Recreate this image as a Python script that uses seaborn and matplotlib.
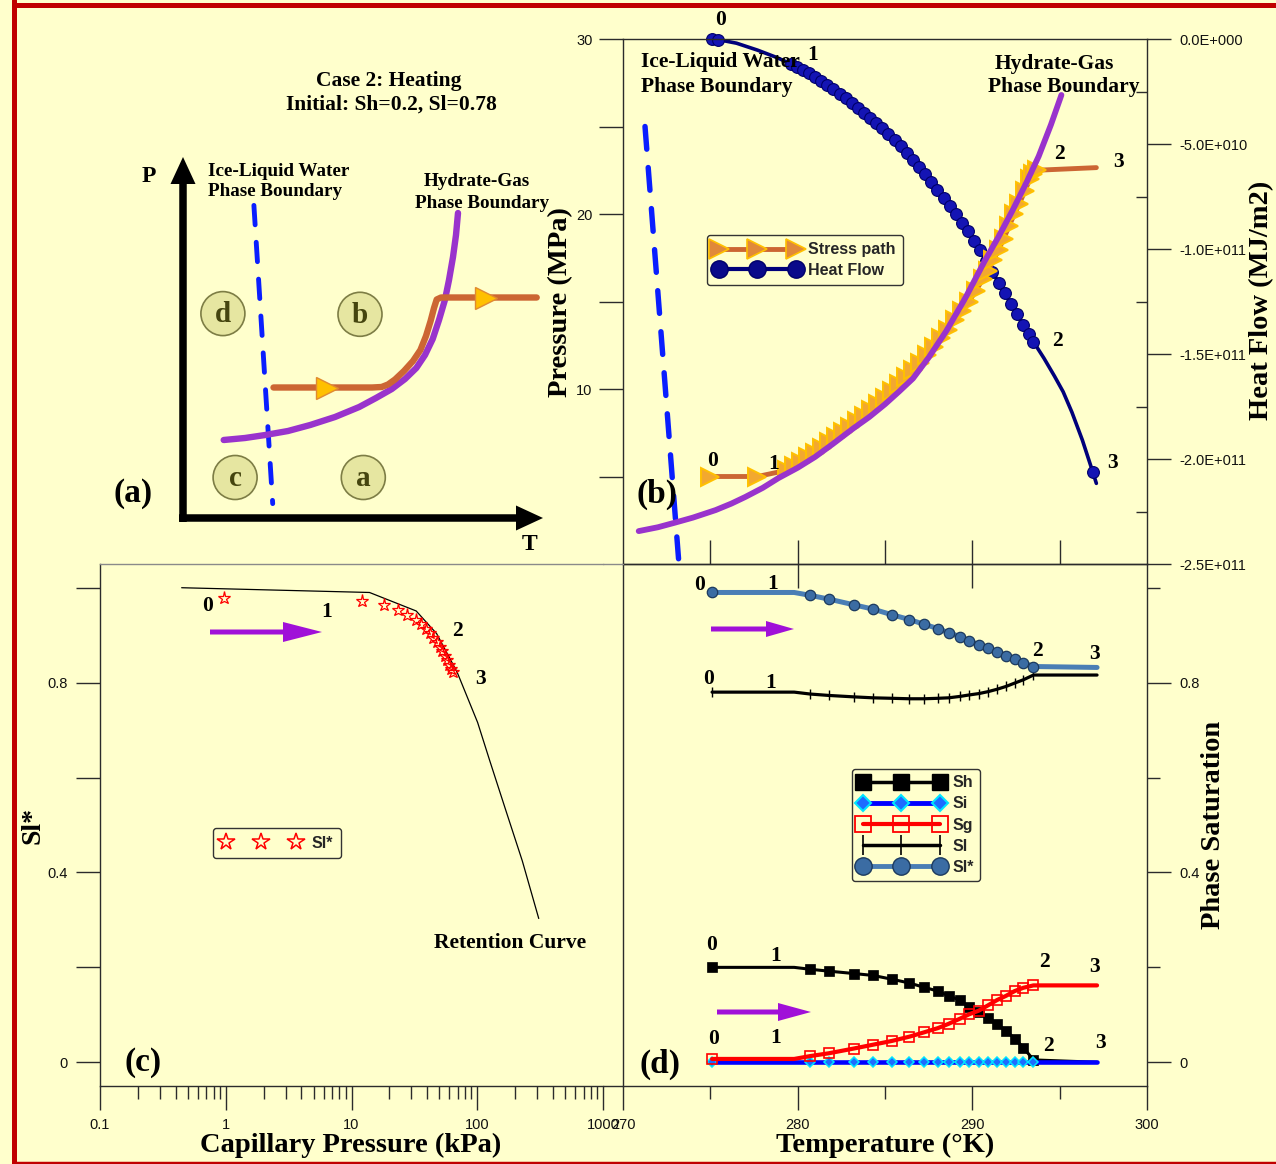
import matplotlib
matplotlib.use("Agg")
import numpy as np
import matplotlib.pyplot as plt
import seaborn as sns
from matplotlib.lines import Line2D
from matplotlib.patches import Circle, FancyArrowPatch, ArrowStyle
from matplotlib.ticker import FixedLocator, FixedFormatter, NullFormatter, LogLocator

# ======================= DATA =======================
# ---- panel (b): pressure / heat flow vs temperature ----
ice_T = [271.26, 273.18]
ice_P = [25.0, 0.3]
hyd_T = [270.9, 272.0, 273.0, 274.0, 275.3, 276.2, 277.0, 278.0, 278.9, 280.0, 281.0, 282.0, 283.2,
         284.1, 285.0, 285.8, 286.6, 287.5, 288.5, 289.6, 290.7, 291.5, 292.3, 293.1, 293.8, 294.5, 295.1]
hyd_P = [1.88, 2.10, 2.37, 2.65, 3.08, 3.45, 3.83, 4.35, 4.91, 5.50, 6.12, 6.85, 7.76,
         8.40, 9.13, 9.85, 10.6, 11.8, 13.3, 15.2, 17.3, 18.7, 20.2, 21.8, 23.3, 25.1, 26.8]
stress_T = [275.0, 277.7, 279.4, 279.8, 280.2, 280.6, 281.0, 281.4, 281.8, 282.2, 282.6, 283.0,
            283.4, 283.8, 284.2, 284.6, 285.0, 285.4, 285.8, 286.2, 286.6, 287.0, 287.4, 287.8,
            288.2, 288.6, 289.0, 289.4, 289.8, 290.2, 290.6, 290.9, 291.2, 291.5, 291.8, 292.1,
            292.4, 292.7, 293.0, 293.3, 293.5, 293.7, 297.1]
stress_P = [5.0, 5.0, 5.36, 5.6, 5.85, 6.1, 6.37, 6.65, 6.96, 7.25, 7.55, 7.85,
            8.15, 8.46, 8.78, 9.13, 9.5, 9.88, 10.27, 10.67, 11.07, 11.5, 11.95, 12.42,
            12.9, 13.4, 13.92, 14.45, 15.0, 15.6, 16.3, 16.77, 17.35, 17.95, 18.6, 19.3,
            19.98, 20.6, 21.3, 22.0, 22.3, 22.5, 22.65]
stress_mark_idx = list(range(42))
hf_T = [275.1, 275.45, 276.5, 277.7, 278.8, 279.6, 279.95, 280.3, 280.65, 281.0, 281.35, 281.7,
        282.05, 282.4, 282.75, 283.1, 283.45, 283.8, 284.15, 284.5, 284.85, 285.2, 285.55, 285.9,
        286.25, 286.6, 286.95, 287.3, 287.65, 288.0, 288.35, 288.7, 289.05, 289.4, 289.75, 290.1,
        290.45, 290.8, 291.15, 291.5, 291.85, 292.2, 292.55, 292.9, 293.25, 293.5, 294.1, 294.7,
        295.2, 295.7, 296.3, 296.9, 297.1]
# heat flow in units of 1e10 MJ/m2
hf_Q = [0.0, -0.03, -0.2, -0.53, -0.88, -1.18, -1.31, -1.47, -1.64, -1.82, -2.0, -2.19,
        -2.39, -2.6, -2.82, -3.04, -3.27, -3.5, -3.74, -3.99, -4.25, -4.52, -4.8, -5.1,
        -5.42, -5.75, -6.1, -6.45, -6.82, -7.2, -7.56, -7.93, -8.33, -8.74, -9.16, -9.6,
        -10.06, -10.55, -11.08, -11.6, -12.1, -12.6, -13.1, -13.6, -14.05, -14.42, -15.2, -16.05,
        -16.8, -17.77, -19.1, -20.63, -21.16]
hf_mark_idx = [0, 1] + list(range(5, 46)) + [51]
p_ticks = [10, 20, 30]
p_minor = [5, 15, 25]
hf_ticks = [0, -5, -10, -15, -20, -25]
hf_minor = [-2.5, -7.5, -12.5, -17.5, -22.5]
hf_tick_labels = ["0.0E+000", "-5.0E+010", "-1.0E+011", "-1.5E+011", "-2.0E+011", "-2.5E+011"]

# ---- panel (d): phase saturations vs temperature ----
sat_T = [275.1, 279.8, 280.71, 281.79, 283.22, 284.31, 285.40, 286.40, 287.23, 288.03, 288.64,
         289.30, 289.81, 290.38, 290.90, 291.41, 291.93, 292.42, 292.92, 293.50, 297.14]
Sh = [0.200, 0.200, 0.196, 0.192, 0.187, 0.183, 0.175, 0.167, 0.158, 0.150, 0.140,
      0.131, 0.116, 0.106, 0.093, 0.081, 0.066, 0.050, 0.031, 0.005, 0.0]
Si = [0.0, 0.0, 0.0, 0.0, 0.0, 0.0, 0.0, 0.0, 0.0, 0.0, 0.0,
      0.0, 0.0, 0.0, 0.0, 0.0, 0.0, 0.0, 0.0, 0.0, 0.0]
Sg = [0.007, 0.007, 0.013, 0.019, 0.029, 0.037, 0.045, 0.054, 0.063, 0.072, 0.081,
      0.092, 0.101, 0.109, 0.120, 0.131, 0.140, 0.150, 0.157, 0.162, 0.162]
Sl = [0.780, 0.780, 0.776, 0.773, 0.770, 0.768, 0.767, 0.766, 0.766, 0.767, 0.768,
      0.771, 0.774, 0.777, 0.781, 0.786, 0.792, 0.799, 0.806, 0.816, 0.816]
Slstar = [0.990, 0.990, 0.984, 0.976, 0.964, 0.955, 0.943, 0.933, 0.923, 0.914, 0.905,
          0.897, 0.888, 0.880, 0.873, 0.865, 0.857, 0.849, 0.842, 0.834, 0.832]
sat_mark_idx = [0] + list(range(2, 20))
T_ticks = [270, 280, 290, 300]
T_minor = [275, 285, 295]
s_ticks = [0, 0.4, 0.8]
s_minor = [0.2, 0.6, 1.0]

# ---- panel (c): retention curve ----
ret_Pc = [0.446, 13.9, 32.7, 47.6, 69.2, 100.7, 125.9, 169.6, 228.4, 308.3]
ret_Sl = [1.0, 0.990, 0.951, 0.903, 0.822, 0.716, 0.635, 0.529, 0.424, 0.303]
star_Pc = [0.977, 12.2, 18.0, 23.4, 27.8, 32.3, 35.8, 38.9, 41.9, 44.8, 47.6, 50.2, 52.8,
           55.2, 57.8, 60.0, 62.3, 64.2]
star_Sl = [0.978, 0.972, 0.963, 0.953, 0.943, 0.933, 0.923, 0.913, 0.904, 0.895, 0.885,
           0.876, 0.866, 0.857, 0.848, 0.838, 0.828, 0.822]
pc_ticks = [0.1, 1, 10, 100, 1000]
pc_tick_labels = ["0.1", "1", "10", "100", "1000"]

# ---- panel (a): schematic (in schematic frame units) ----
sch_ice_x = [253.9, 272.7]
sch_ice_y = [205.4, 503.6]
sch_hyd_x = [223.7, 245, 265.3, 288, 310.2, 335, 359.2, 376, 391.8, 405, 416.3, 425, 432.7, 439,
             444.9, 449, 453.0, 456, 458.0]
sch_hyd_y = [440, 438, 435, 431, 425, 417, 407, 398, 389, 379, 368, 355, 339, 320,
             300, 280, 257, 235, 213]
sch_path_x = [273.5, 372, 381.6, 388, 395, 404.0, 413, 420.4, 426, 430.6, 434, 436.7, 441, 536.7]
sch_path_y = [387.5, 387.5, 387, 384.5, 379.5, 371, 361, 350, 336, 321, 308, 299.5, 297.5, 297.5]
sch_tri_x = [326.5, 485.7]
sch_tri_y = [387.5, 298]
sch_region_labels = ["d", "b", "c", "a"]
sch_region_x = [222.9, 360.0, 235.1, 363.3]
sch_region_y = [313.6, 314.3, 477.5, 477.5]
sch_axis_arrows = [(183, 522, 183, 157), (179, 518, 543, 518)]

# ======================= STYLE =======================
sns.set_theme(style="ticks")
SANS = ["Liberation Sans", "DejaVu Sans"]
SERIF = ["Liberation Serif", "DejaVu Serif"]
plt.rcParams["font.family"] = SANS
plt.rcParams["axes.linewidth"] = 1.0
plt.rcParams["axes.edgecolor"] = "#2b2b2b"
plt.rcParams["xtick.color"] = "#2b2b2b"
plt.rcParams["ytick.color"] = "#2b2b2b"
plt.rcParams["xtick.labelcolor"] = "#111111"
plt.rcParams["ytick.labelcolor"] = "#111111"

BG = "#FFFFCC"
W, H = 1276, 1164
fig = plt.figure(figsize=(W / 100, H / 100), dpi=100, facecolor=BG)


def fx(x):
    return x / W


def fy(y):
    return 1 - y / H


def rect(x0, y0, x1, y1):
    return [x0 / W, 1 - y1 / H, (x1 - x0) / W, (y1 - y0) / H]


def label(x, y, s, size=15.5, rot=0, ha="center", family=None, weight="bold", color="black"):
    fig.text(fx(x), fy(y), s, fontsize=size, rotation=rot, ha=ha, va="center",
             family=family or SERIF, fontweight=weight, color=color, zorder=20)


def harrow(x0, x1, y, hl, hw, tw, color="#A010D8"):
    fig.add_artist(FancyArrowPatch((fx(x0), fy(y)), (fx(x1), fy(y)), transform=fig.transFigure,
                                   arrowstyle=ArrowStyle.Simple(head_length=hl, head_width=hw, tail_width=tw),
                                   mutation_scale=0.72, shrinkA=0, shrinkB=0, color=color, lw=0, zorder=20))


def line(ax, x, y, **kw):
    sns.lineplot(x=x, y=y, ax=ax, sort=False, estimator=None, legend=False, **kw)
    ax.set_xlabel("")
    ax.set_ylabel("")
    return ax.lines[-1]


# red frame
fig.add_artist(Line2D([fx(13.9), fx(13.9)], [0, 1], transform=fig.transFigure, color="#C00000", lw=3.6))
fig.add_artist(Line2D([fx(13.9), 1], [fy(4.5), fy(4.5)], transform=fig.transFigure, color="#C00000", lw=3.6))
fig.add_artist(Line2D([fx(13.9), 1], [fy(1162.5), fy(1162.5)], transform=fig.transFigure, color="#C00000", lw=2.5))

# ======================= PANEL (a) =======================
ax_a = fig.add_axes(rect(130, 130, 570, 570))
ax_a.set_xlim(130, 570)
ax_a.set_ylim(570, 130)
ax_a.axis("off")
ice_a = line(ax_a, sch_ice_x, sch_ice_y, color="#0A1EFF", lw=3.5)
ice_a.set_dashes([4.0, 3.6])
ice_a.set_dash_capstyle("round")
line(ax_a, sch_hyd_x, sch_hyd_y, color="#9933CC", lw=4.6, zorder=3, solid_capstyle="round",
     solid_joinstyle="round")
line(ax_a, sch_path_x, sch_path_y, color="#CC6633", lw=4.6, zorder=4, solid_capstyle="round",
     solid_joinstyle="round")
line(ax_a, sch_tri_x, sch_tri_y, color="#CC6633", linestyle="none", marker=">", markersize=16,
     markerfacecolor="#FFC000", markeredgecolor="#E08A30", markeredgewidth=1.0, zorder=5)
for (x0, y0, x1, y1) in sch_axis_arrows:
    ax_a.add_patch(FancyArrowPatch((x0, y0), (x1, y1),
                                   arrowstyle=ArrowStyle.Simple(head_length=27, head_width=25, tail_width=7.5),
                                   mutation_scale=0.72, shrinkA=0, shrinkB=0, color="black", lw=0))
for lab, cx, cy in zip(sch_region_labels, sch_region_x, sch_region_y):
    ax_a.add_patch(Circle((cx, cy), 22, facecolor="#E6E6A1", edgecolor="#7D7D45", lw=1.2, zorder=6))
    ax_a.text(cx, cy + 1, lab, ha="center", va="center", fontsize=21, fontweight="bold",
              family=SERIF, color="#45450F", zorder=7)

label(389, 81, "Case 2: Heating")
label(391, 105, "Initial: Sh=0.2, Sl=0.78")
label(208, 171, "Ice-Liquid Water", size=13.8, ha="left")
label(208, 191, "Phase Boundary", size=13.8, ha="left")
label(477, 182, "Hydrate-Gas", size=13.8)
label(482, 203, "Phase Boundary", size=13.8)
label(149, 177, "P", size=17)
label(530, 545, "T", size=17)
label(133, 493, "(a)", size=24)

# ======================= PANEL (b) =======================
ax_b = fig.add_axes(rect(623, 39, 1147, 564))
ax_b2 = ax_b.twinx()
ax_b.set_zorder(ax_b2.get_zorder() + 1)
ax_b.patch.set_visible(False)
ax_b2.patch.set_visible(False)

ice_b = line(ax_b, ice_T, ice_P, color="#0A1EFF", lw=3.9, zorder=2)
ice_b.set_dashes([4.2, 3.4])
ice_b.set_dash_capstyle("round")
line(ax_b, stress_T, stress_P, color="#CC6633", lw=3.5, marker=">", markersize=12.5,
     markerfacecolor="#F2A830", markeredgecolor="#FFC000", markeredgewidth=1.4,
     markevery=stress_mark_idx, zorder=3)
line(ax_b, hyd_T, hyd_P, color="#9933CC", lw=4.2, zorder=4, solid_capstyle="round",
     solid_joinstyle="round")

line(ax_b2, hf_T, hf_Q, color="#00007A", lw=2.6, marker="o", markersize=8.5,
     markerfacecolor="#1414B4", markeredgecolor="#00006A", markeredgewidth=0.8,
     markevery=hf_mark_idx, clip_on=False)

ax_b.set_xlim(270, 300)
ax_b.set_ylim(0, 30)
ax_b2.set_xlim(270, 300)
ax_b2.set_ylim(-25, 0)

ax_b.yaxis.set_major_locator(FixedLocator(p_ticks))
ax_b.yaxis.set_minor_locator(FixedLocator(p_minor))
ax_b.tick_params(axis="y", which="both", direction="out", length=17, width=1, labelsize=10.5, pad=5)
ax_b.xaxis.set_major_locator(FixedLocator([280, 290]))
ax_b.xaxis.set_minor_locator(FixedLocator([275, 285, 295]))
ax_b.tick_params(axis="x", which="major", direction="inout", length=34, width=1, labelbottom=False)
ax_b.tick_params(axis="x", which="minor", direction="in", length=17, width=1, labelbottom=False)
ax_b.spines["right"].set_visible(False)

ax_b2.yaxis.set_major_locator(FixedLocator(hf_ticks))
ax_b2.yaxis.set_major_formatter(FixedFormatter(hf_tick_labels))
ax_b2.yaxis.set_minor_locator(FixedLocator(hf_minor))
ax_b2.tick_params(axis="y", which="major", direction="out", length=17, width=1, labelsize=10.5, pad=6)
ax_b2.tick_params(axis="y", which="minor", direction="in", length=8, width=1)
ax_b2.tick_params(axis="x", which="both", bottom=False, labelbottom=False)
for s in ["left", "top", "bottom"]:
    ax_b2.spines[s].set_visible(False)

leg_b = [Line2D([0], [0], color="#CC6633", lw=3.5, marker=">", markersize=14,
                markerfacecolor="#E0883A", markeredgecolor="#FFC000", markeredgewidth=1.2),
         Line2D([0], [0], color="#00007A", lw=3, marker="o", markersize=12.5,
                markerfacecolor="#0A0A8A", markeredgecolor="#00006A")]
lg = ax_b.legend(leg_b, ["Stress path", "Heat Flow"], loc="center",
                 bbox_to_anchor=(fx(805), fy(260)), bbox_transform=fig.transFigure,
                 numpoints=3, handlelength=5.4, handletextpad=0.5, labelspacing=0.35, borderpad=0.45,
                 fancybox=True, framealpha=1, facecolor=BG, edgecolor="#333333",
                 prop=dict(family=SANS, weight="bold", size=11.5))
lg.get_frame().set_linewidth(1.0)
lg.set_zorder(30)

label(641, 62, "Ice-Liquid Water", ha="left")
label(641, 87, "Phase Boundary", ha="left")
label(1054, 64, "Hydrate-Gas")
label(1064, 87, "Phase Boundary")
label(721, 20, "0")
label(813, 55, "1")
label(713, 461, "0")
label(774, 464, "1")
label(1059, 154, "2")
label(1118, 162, "3")
label(1057, 341, "2")
label(1112, 463, "3")
label(657, 494, "(b)", size=24)
label(561, 302, "Pressure (MPa)", size=20.5, rot=90)
label(1262, 300, "Heat Flow (MJ/m2)", size=20.5, rot=90)

# ======================= PANEL (d) =======================
ax_d = fig.add_axes(rect(623, 564, 1147, 1086))
ax_d.patch.set_visible(False)
line(ax_d, sat_T, Si, color="#0000FF", lw=3.3, marker="D", markersize=5,
     markerfacecolor="#1E6BFF", markeredgecolor="#00E5FF", markeredgewidth=1.1,
     markevery=sat_mark_idx, zorder=3)
line(ax_d, sat_T, Sh, color="black", lw=2.2, marker="s", markersize=7,
     markerfacecolor="black", markeredgecolor="black", markeredgewidth=0.5,
     markevery=sat_mark_idx, zorder=2)
line(ax_d, sat_T, Sg, color="#FF0000", lw=3.0, marker="s", markersize=7,
     markerfacecolor="none", markeredgecolor="#FF0000", markeredgewidth=1.2,
     markevery=sat_mark_idx, zorder=4)
line(ax_d, sat_T, Sl, color="black", lw=2.3, marker="|", markersize=7,
     markeredgecolor="black", markeredgewidth=1.0, markevery=sat_mark_idx, zorder=4)
line(ax_d, sat_T, Slstar, color="#4A7EB5", lw=3.6, marker="o", markersize=7.5,
     markerfacecolor="#3B6CA3", markeredgecolor="#1C3A5E", markeredgewidth=0.9,
     markevery=sat_mark_idx, zorder=5)
ax_d.set_xlim(270, 300)
ax_d.set_ylim(-0.05, 1.05)
ax_d.yaxis.tick_right()
ax_d.yaxis.set_major_locator(FixedLocator(s_ticks))
ax_d.yaxis.set_major_formatter(FixedFormatter(["0", "0.4", "0.8"]))
ax_d.yaxis.set_minor_locator(FixedLocator(s_minor))
ax_d.tick_params(axis="y", which="major", direction="out", length=17, width=1, labelsize=10.5, pad=6,
                 left=False, right=True)
ax_d.tick_params(axis="y", which="minor", direction="out", length=9, width=1, left=False, right=True)
ax_d.xaxis.set_major_locator(FixedLocator(T_ticks))
ax_d.xaxis.set_major_formatter(FixedFormatter(["270", "280", "290", "300"]))
ax_d.xaxis.set_minor_locator(FixedLocator(T_minor))
ax_d.tick_params(axis="x", which="major", direction="out", length=17, width=1, labelsize=10.5, pad=6)
ax_d.tick_params(axis="x", which="minor", direction="out", length=9, width=1)

leg_d = [Line2D([0], [0], color="black", lw=2.5, marker="s", markersize=12, markerfacecolor="black",
                markeredgecolor="black"),
         Line2D([0], [0], color="#0000FF", lw=3.5, marker="D", markersize=8, markerfacecolor="#1E6BFF",
                markeredgecolor="#00E5FF", markeredgewidth=1.5),
         Line2D([0], [0], color="#FF0000", lw=3, marker="s", markersize=12, markerfacecolor="none",
                markeredgecolor="#FF0000", markeredgewidth=1.3),
         Line2D([0], [0], color="black", lw=2.5, marker="|", markersize=14, markeredgecolor="black",
                markeredgewidth=1.2),
         Line2D([0], [0], color="#4A7EB5", lw=3.5, marker="o", markersize=12.5, markerfacecolor="#3B6CA3",
                markeredgecolor="#1C3A5E")]
lgd = ax_d.legend(leg_d, ["Sh", "Si", "Sg", "Sl", "Sl*"], loc="center",
                  bbox_to_anchor=(fx(916), fy(825)), bbox_transform=fig.transFigure,
                  numpoints=3, handlelength=5.4, handletextpad=0.5, labelspacing=0.38, borderpad=0.4,
                  fancybox=True, framealpha=1, facecolor=BG, edgecolor="#333333",
                  prop=dict(family=SANS, weight="bold", size=11.5))
lgd.get_frame().set_linewidth(1.0)

label(700, 585, "0")
label(773, 584, "1")
label(1037, 651, "2")
label(1095, 654, "3")
label(709, 679, "0")
label(771, 683, "1")
label(712, 945, "0")
label(776, 956, "1")
label(1044, 962, "2")
label(1094, 967, "3")
label(714, 1039, "0")
label(776, 1038, "1")
label(1048, 1046, "2")
label(1101, 1043, "3")
label(660, 1064, "(d)", size=24)
harrow(711, 794, 629, 28, 16, 5)
harrow(717, 811, 1012, 33, 18, 5)
label(885, 1145, "Temperature (°K)", size=20.5)
label(1214, 825, "Phase Saturation", size=20.5, rot=90)

# ======================= PANEL (c) =======================
ax_c = fig.add_axes(rect(100, 564, 603, 1086))
ax_c.patch.set_visible(False)
ax_c.set_xscale("log")
line(ax_c, ret_Pc, ret_Sl, color="black", lw=0.9, zorder=2)
line(ax_c, star_Pc, star_Sl, color="#FF0000", linestyle="none", marker="*", markersize=9.5,
     markerfacecolor="none", markeredgecolor="#FF0000", markeredgewidth=0.9, zorder=3)
ax_c.set_xlim(0.1, 1000)
ax_c.set_ylim(-0.05, 1.05)
ax_c.xaxis.set_major_locator(FixedLocator(pc_ticks))
ax_c.xaxis.set_major_formatter(FixedFormatter(pc_tick_labels))
ax_c.xaxis.set_minor_locator(LogLocator(base=10, subs=[2, 3, 4, 5, 6, 7, 8, 9]))
ax_c.xaxis.set_minor_formatter(NullFormatter())
ax_c.tick_params(axis="x", which="major", direction="out", length=17, width=1, labelsize=10.5, pad=6)
ax_c.tick_params(axis="x", which="minor", direction="out", length=9, width=1)
ax_c.yaxis.set_major_locator(FixedLocator(s_ticks))
ax_c.yaxis.set_major_formatter(FixedFormatter(["0", "0.4", "0.8"]))
ax_c.yaxis.set_minor_locator(FixedLocator(s_minor))
ax_c.tick_params(axis="y", which="both", direction="out", length=17, width=1, labelsize=10.5, pad=6)
ax_c.spines["right"].set_visible(False)
ax_c.spines["top"].set_color("#8a8a8a")
# short continuation of the frame lines up to panel (d)
fig.add_artist(Line2D([fx(603), fx(623)], [fy(564), fy(564)], transform=fig.transFigure,
                      color="#8a8a8a", lw=1.0))
fig.add_artist(Line2D([fx(603), fx(623)], [fy(1086), fy(1086)], transform=fig.transFigure,
                      color="#2b2b2b", lw=1.0))

leg_c = [Line2D([0], [0], linestyle="none", marker="*", markersize=13, markerfacecolor="none",
                markeredgecolor="#FF0000", markeredgewidth=1.1)]
lgc = ax_c.legend(leg_c, ["Sl*"], loc="center", bbox_to_anchor=(fx(277), fy(843)),
                  bbox_transform=fig.transFigure, numpoints=3, handlelength=5.0, handletextpad=0.7,
                  borderpad=0.5, fancybox=True, framealpha=1, facecolor=BG, edgecolor="#333333",
                  prop=dict(family=SANS, weight="bold", size=11.5))
lgc.get_frame().set_linewidth(1.0)

label(208, 606, "0")
label(327, 612, "1")
label(457, 631, "2")
label(480, 679, "3")
label(510, 943, "Retention Curve")
label(143, 1062, "(c)", size=24)
harrow(210, 322, 632, 39, 20, 5)
label(351, 1145, "Capillary Pressure (kPa)", size=20.5)
label(33, 826, "Sl*", size=20, rot=90)

fig.savefig("out.png", dpi=100, facecolor=BG)
